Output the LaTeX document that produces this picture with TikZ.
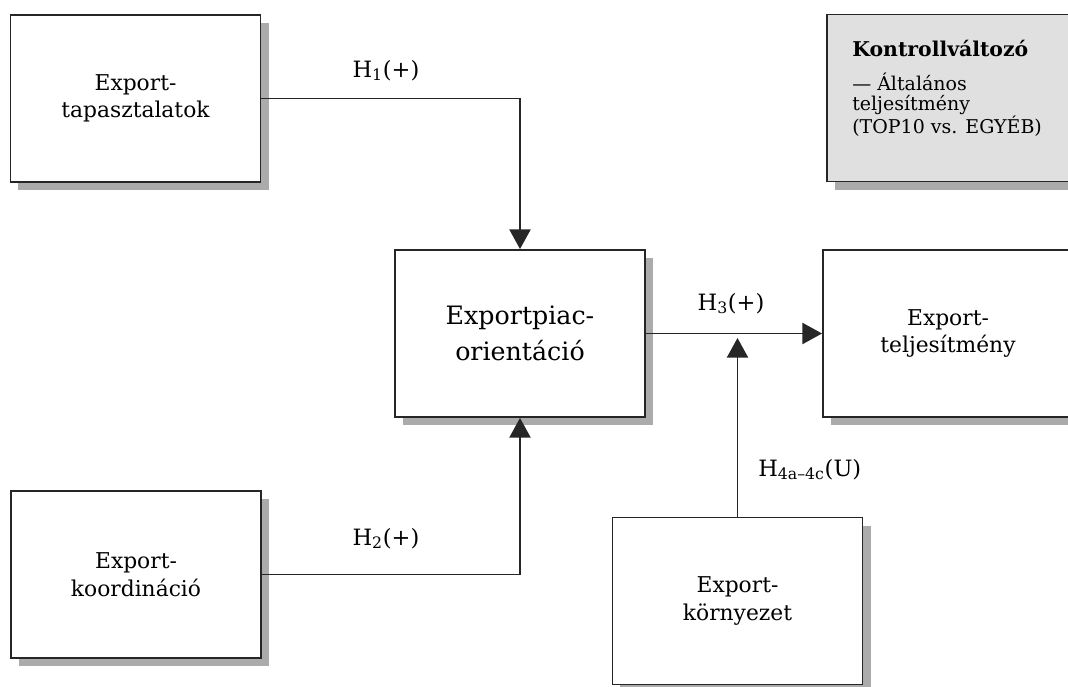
\documentclass[tikz,border=0pt]{standalone}
\usepackage{fontspec}
\setmainfont{DejaVu Serif}
\usepackage{tikz}
\usetikzlibrary{positioning,arrows.meta,shadows}
\tikzset{
    x=0.025cm,
    y=-0.025cm,
    box/.style = {
        draw=black!85,
        fill=white,
        shape=rectangle,
        minimum height=4.175cm,
        minimum width=6.25cm,
        line width=1.3pt,
        align=center,
        font=\fontsize{15.5}{19.5}\selectfont,
        drop shadow={shadow xshift=5.7pt, shadow yshift=-5.7pt, opacity=1, fill=black!33}
    },
    bigbox/.style = {
        box,
        font=\fontsize{18}{26}\selectfont
    },
    ctrlbox/.style = {
        box,
        fill=black!12
    },
    ctrltxt/.style = {
        inner sep=0pt,
        align=left,
        font=\fontsize{13.5}{14}\selectfont
    },
    lbl/.style = {
        inner sep=0pt,
        font=\fontsize{16}{19}\selectfont
    },
    conn/.style = {
        draw=black!85,
        line width=1.4pt
    },
    >={Triangle[width=15pt,length=14pt]},
}
\begin{document}
\begin{tikzpicture}
                \useasboundingbox (0,0) rectangle (1068,686);
                \clip (0,0) rectangle (1068,686);

                \node[box] (tap) at (135.5,98.5) {Export-\\tapasztalatok};
                \node[box] (koord) at (136,574.5) {Export-\\koordináció};
                \node[bigbox] (orient) at (520,333.5) {Exportpiac-\\orientáció};
                \node[box] (telj) at (948,333.5) {Export-\\teljesítmény};
                \node[box] (korny) at (737.5,601) {Export-\\környezet};
                \node[ctrlbox] (ctrl) at (952,98) {};
                \node[ctrltxt, anchor=north west] (ctrltxt) at (852,40)
                    {{\fontsize{14.5}{14}\selectfont\textbf{Kontrollváltozó}}\\[10pt]— Általános\\teljesítmény\\(TOP10 vs. EGYÉB)};

                \coordinate (meet) at (737.5,338);

                \path[conn, ->] (tap) -| (orient);
                \path[conn, ->] (koord) -| (orient);
                \path[conn, ->] (orient) -- (telj);
                \path[conn, ->] (korny) -- (meet);

                \node[lbl, anchor=base] (h1) at (386,77) {H\textsubscript{1}(+)};
                \node[lbl, anchor=base] (h2) at (386,545) {H\textsubscript{2}(+)};
                \node[lbl, anchor=base] (h3) at (731,310) {H\textsubscript{3}(+)};
                \node[lbl, anchor=base west] (h4) at (758,476) {H\textsubscript{4a–4c}(U)};
\end{tikzpicture}
\end{document}
